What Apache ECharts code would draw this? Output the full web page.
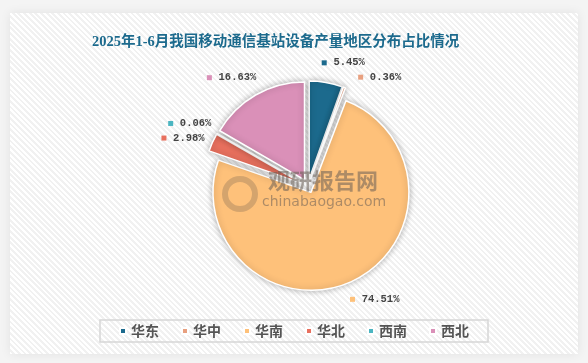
<!DOCTYPE html>
<html><head><meta charset="utf-8">
<script src="https://cdn.jsdelivr.net/npm/echarts@6/dist/echarts.min.js"></script>
<style>
html,body{margin:0;padding:0;background:#f4f4f4;}
#wrap{position:absolute;left:10px;top:13px;width:568px;height:341px;
background:repeating-linear-gradient(45deg,#ffffff 0px,#ffffff 2px,#f1f1f1 2px,#f1f1f1 4px);
box-shadow:0 0 10px rgba(0,0,0,0.08);}
#main{position:absolute;left:0;top:0;width:588px;height:363px;}
</style></head>
<body>
<div id="wrap"></div>
<div id="main"></div>
<script>
const titleText = '2025年1-6月我国移动通信基站设备产量地区分布占比情况';
const categories = ['华东','华中','华南','华北','西南','西北'];
const shares = [5.45, 0.36, 74.51, 2.98, 0.06, 16.63];
const colors = ['#1c6a8d','#e8a07f','#fec17a','#e8705e','#4bb5c1','#da90b8'];

const chart = echarts.init(document.getElementById('main'), null, {renderer:'canvas'});
const data = categories.map((c,i)=>({
  name:c, value:shares[i], selected:true,
  itemStyle:{color:colors[i]},
  label:{rich:{m:{width:5,height:5,backgroundColor:colors[i]}}}
}));
chart.setOption({
  animation:false,
  color:colors,
  title:{text:titleText,left:87,top:30,
    textStyle:{fontSize:14.5,fontWeight:'bold',color:'#1c6a8d',fontFamily:"'Liberation Serif','Noto Sans CJK SC'"}},
  legend:{data:categories,left:'center',top:320,icon:'rect',itemWidth:6,itemHeight:6,itemGap:22,
    borderColor:'#d6d6d6',borderWidth:1.5,padding:[4,19],
    textStyle:{fontSize:14,fontWeight:'bold',color:'#555',fontFamily:"'Noto Sans CJK SC'"}},
  graphic:[
    {type:'text',left:268,top:170,z:100,style:{text:'观研报告网',font:"bold 22px 'Noto Sans CJK SC'",fill:'rgba(105,95,85,0.55)'}},
    {type:'text',left:262,top:195,z:100,style:{text:'chinabaogao.com',font:"14px 'DejaVu Sans'",fill:'rgba(105,95,85,0.55)'}},
    {type:'ring',left:222,top:176,z:100,shape:{r:18,r0:12},style:{fill:'rgba(150,120,90,0.4)'}}
  ],
  series:[{
    type:'pie',center:[308,186],radius:98,selectedMode:'multiple',selectedOffset:7,
    startAngle:90,clockwise:true,
    itemStyle:{borderColor:'#fff',borderWidth:1.5,shadowBlur:6,shadowColor:'rgba(0,0,0,0.3)'},
    label:{show:true,position:'outside',
      formatter:p=>'{m|}  {v|'+p.value.toFixed(2)+'%}',
      rich:{v:{fontSize:10.5,fontWeight:'bold',color:'#444',fontFamily:"'Liberation Mono'"}}},
    labelLine:{show:false,length:20,length2:9},
    labelLayout:function(){return {align:'center'};},
    emphasis:{disabled:true},
    data:data
  }]
});
</script>
</body></html>
